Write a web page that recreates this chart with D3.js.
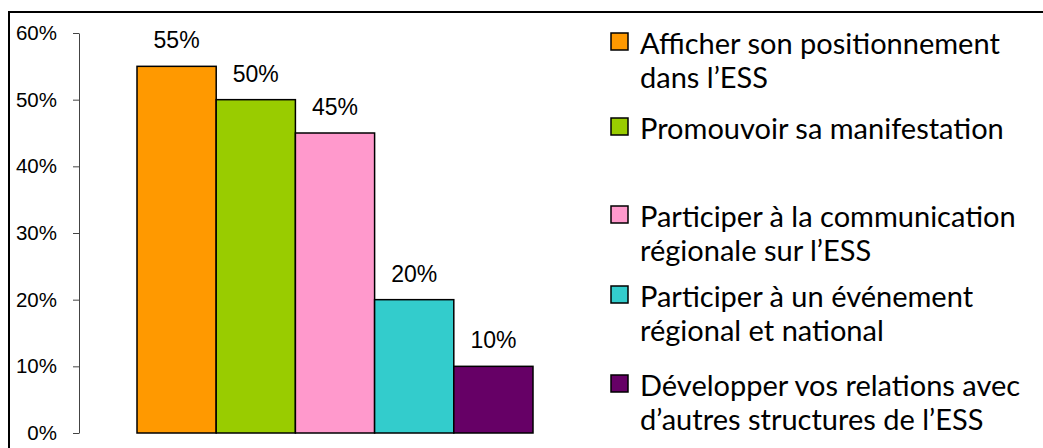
<!DOCTYPE html>
<html>
<head>
  <meta charset="UTF-8">
  <title>ESS bar chart</title>
  <script src="https://d3js.org/d3.v7.min.js"></script>
  <style>
    body { margin: 0; background: #fff; }
    svg { display: block; }
    .tick text { font-family: "Liberation Sans", Arial, sans-serif; }
    .legend text { font-family: Lato, "Open Sans", sans-serif; font-size: 29px; fill: #000; }
  </style>
</head>
<body>
  <svg id="chart" width="1043" height="448"></svg>

  <script>
    // data
    var categories = [
      ["Afficher son positionnement", "dans l\u2019ESS"],
      ["Promouvoir sa manifestation"],
      ["Participer \u00e0 la communication", "r\u00e9gionale sur l\u2019ESS"],
      ["Participer \u00e0 un \u00e9v\u00e9nement", "r\u00e9gional et national"],
      ["D\u00e9velopper vos relations avec", "d\u2019autres structures de l\u2019ESS"]
    ];
    var values = [0.55, 0.50, 0.45, 0.20, 0.10];
    var colors = ["#FF9900", "#99CC00", "#FF99CC", "#33CCCC", "#660066"];
    var yTicks = [0, 0.1, 0.2, 0.3, 0.4, 0.5, 0.6];

    var svg = d3.select("#chart");

    // frame (top + left only visible)
    svg.append("path")
       .attr("d", "M9,448 V12 H1043")
       .attr("fill", "none")
       .attr("stroke", "#000")
       .attr("stroke-width", 2);

    var keys = categories.map(function(d, i) { return "c" + i; });

    var x = d3.scaleBand()
              .domain(keys)
              .range([137, 533])
              .padding(0);

    var y = d3.scaleLinear()
              .domain([0, 0.6])
              .range([433, 33]);

    // y axis
    var yAxis = d3.axisLeft(y)
                  .tickValues(yTicks)
                  .tickFormat(d3.format(".0%"))
                  .tickSize(6)
                  .tickSizeOuter(0)
                  .tickPadding(16);

    var gy = svg.append("g")
                .attr("transform", "translate(79,0)")
                .call(yAxis);
    gy.select(".domain").attr("stroke", "#444").attr("stroke-width", 1);
    gy.selectAll(".tick line").attr("stroke", "#444");
    gy.selectAll(".tick text")
      .attr("font-size", 20.5)
      .attr("fill", "#000");

    // bars
    svg.selectAll("rect.bar")
       .data(values)
       .enter()
       .append("rect")
       .attr("class", "bar")
       .attr("x", function(d, i) { return x(keys[i]); })
       .attr("y", function(d) { return y(d); })
       .attr("width", x.bandwidth())
       .attr("height", function(d) { return y(0) - y(d); })
       .attr("fill", function(d, i) { return colors[i]; })
       .attr("stroke", "#000")
       .attr("stroke-width", 1.5);

    // value labels
    svg.selectAll("text.val")
       .data(values)
       .enter()
       .append("text")
       .attr("class", "val")
       .attr("x", function(d, i) { return x(keys[i]) + x.bandwidth() / 2; })
       .attr("y", function(d) { return y(d) - 18; })
       .attr("text-anchor", "middle")
       .attr("font-family", "'Liberation Sans', Arial, sans-serif")
       .attr("font-size", 23)
       .attr("fill", "#000")
       .text(function(d) { return d3.format(".0%")(d); });

    // legend
    var legendTop = [54, 139, 227, 307, 396];
    var lineH = 34;
    var legend = svg.append("g").attr("class", "legend");
    var items = legend.selectAll("g")
                      .data(categories)
                      .enter()
                      .append("g")
                      .attr("transform", function(d, i) { return "translate(611," + legendTop[i] + ")"; });

    items.append("rect")
         .attr("x", 0)
         .attr("y", -21)
         .attr("width", 17)
         .attr("height", 17)
         .attr("fill", function(d, i) { return colors[i]; })
         .attr("stroke", "#000")
         .attr("stroke-width", 1.5);

    items.each(function(lines) {
      var g = d3.select(this);
      lines.forEach(function(t, j) {
        g.append("text")
         .attr("x", 29)
         .attr("y", j * lineH)
         .text(t);
      });
    });
  </script>
</body>
</html>
